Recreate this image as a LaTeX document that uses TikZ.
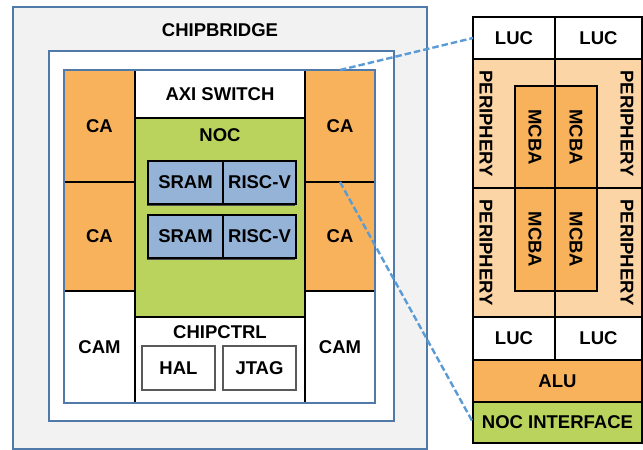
\documentclass[tikz,border=0pt]{standalone}
\usepackage{fontspec}
\setmainfont{Liberation Sans}
\usetikzlibrary{arrows.meta}
\definecolor{chipgray}  {RGB}{242,242,242}
\definecolor{chipblue}  {RGB}{79,122,170}
\definecolor{caorange}  {RGB}{249,178,92}
\definecolor{periorange}{RGB}{252,213,167}
\definecolor{nocgreen}  {RGB}{185,211,92}
\definecolor{srambluee} {RGB}{149,179,215}
\definecolor{dashblue}  {RGB}{91,155,213}

\begin{document}
\begin{tikzpicture}[
  x=1pt,y=-1pt,
  lbl/.style={font=\fontsize{18.5}{20}\selectfont\bfseries,inner sep=0pt},
  bluebox/.style 2 args={draw=chipblue,line width=2pt,minimum width=#1,minimum height=#2,
                         inner sep=0pt,outer sep=0pt},
  wbox/.style 2 args={draw=black,line width=1.2pt,minimum width=#1,minimum height=#2,
                      fill=white,inner sep=0pt,outer sep=0pt,lbl},
  cabox/.style 2 args={wbox={#1}{#2},fill=caorange},
  pbox/.style 2 args={wbox={#1}{#2},fill=periorange},
  nbox/.style 2 args={wbox={#1}{#2},fill=nocgreen},
  sbox/.style 2 args={wbox={#1}{#2},fill=srambluee},
  hbox/.style 2 args={wbox={#1}{#2},draw=black!65},
  shd/.style 2 args={fill=black!70,minimum width=#1,minimum height=#2,inner sep=0pt},
  zoomline/.style={draw=dashblue,line width=2.4pt,dash pattern=on 6.5pt off 3pt},
]
\useasboundingbox (0,0) rectangle (643,450);

%% ── ChipBridge frames ────────────────────────────────────────────────────────
\node[bluebox={414pt}{442pt},fill=chipgray] (bridge) at (220,228) {};
\node[bluebox={345pt}{370pt},fill=white] (ring) at (221.5,236) {};
\node[lbl] (bridgelbl) at (220,30) {CHIPBRIDGE};

%% ── left column ──────────────────────────────────────────────────────────────
\node[cabox={71pt}{112pt}] (caL1) at (99.5,126) {CA};
\node[cabox={71pt}{109pt}] (caL2) at (99.5,236.5) {CA};
\node[wbox={71pt}{112pt}]  (camL) at (99.5,347) {CAM};

%% ── right column ─────────────────────────────────────────────────────────────
\node[cabox={70pt}{112pt}] (caR1) at (340,126) {CA};
\node[cabox={70pt}{109pt}] (caR2) at (340,236.5) {CA};
\node[wbox={70pt}{112pt}]  (camR) at (340,347) {CAM};

%% ── AXI switch and NoC ───────────────────────────────────────────────────────
\node[wbox={170pt}{48pt}] (axi) at (220,94) {AXI SWITCH};
\node[nbox={170pt}{199pt}] (noc) at (220,217.5) {};
\node[lbl] (noclbl) at (220,135) {NOC};

\node[shd={148pt}{43pt}] (shd1) at (220.5,184) {};
\node[sbox={75pt}{43pt}] (sram1) at (185.5,182.5) {SRAM};
\node[sbox={73pt}{43pt}] (risc1) at (259.5,182.5) {RISC-V};

\node[shd={148pt}{43pt}] (shd2) at (220.5,238) {};
\node[sbox={75pt}{43pt}] (sram2) at (185.5,236.5) {SRAM};
\node[sbox={73pt}{43pt}] (risc2) at (259.5,236.5) {RISC-V};

%% ── chip control ─────────────────────────────────────────────────────────────
\node[wbox={170pt}{86pt}] (ctrl) at (220,360) {};
\node[lbl] (ctrllbl) at (220,332) {CHIPCTRL};
\node[hbox={73pt}{44pt}] (hal)  at (178.5,368) {HAL};
\node[hbox={73pt}{44pt}] (jtag) at (259.5,368) {JTAG};

%% core frame on top of the blocks
\node[bluebox={311pt}{333pt}] (core) at (219.5,236.5) {};

%% ── CA detail: LUCs and periphery ────────────────────────────────────────────
\node[wbox={82pt}{42pt}] (lucTL) at (514,38) {LUC};
\node[wbox={87pt}{42pt}] (lucTR) at (598.5,38) {LUC};

\node[pbox={82pt}{129pt}] (perTL) at (514,123.5) {};
\node[pbox={87pt}{129pt}] (perTR) at (598.5,123.5) {};
\node[pbox={82pt}{129pt}] (perBL) at (514,252.5) {};
\node[pbox={87pt}{129pt}] (perBR) at (598.5,252.5) {};

\node[lbl,rotate=-90] (perlblTL) at (486,123.5) {PERIPHERY};
\node[lbl,rotate=-90] (perlblTR) at (627,123.5) {PERIPHERY};
\node[lbl,rotate=-90] (perlblBL) at (486,252.5) {PERIPHERY};
\node[lbl,rotate=-90] (perlblBR) at (627,252.5) {PERIPHERY};

%% MCBA tiles (rotated, so width runs downwards)
\node[cabox={102pt}{40pt},rotate=-90] (mcTL) at (535,137)   {MCBA};
\node[cabox={102pt}{42pt},rotate=-90] (mcTR) at (576,137)   {MCBA};
\node[cabox={103pt}{40pt},rotate=-90] (mcBL) at (535,239.5) {MCBA};
\node[cabox={103pt}{42pt},rotate=-90] (mcBR) at (576,239.5) {MCBA};

\node[wbox={82pt}{43pt}] (lucBL) at (514,338.5) {LUC};
\node[wbox={87pt}{43pt}] (lucBR) at (598.5,338.5) {LUC};

\node[cabox={169pt}{42pt}] (alu)   at (557.5,381)   {ALU};
\node[nbox={169pt}{41pt}]  (nocif) at (557.5,422.5) {NOC INTERFACE};

%% ── zoom lines ───────────────────────────────────────────────────────────────
\draw[zoomline] (caR1.north) -- (lucTL.west);
\draw[zoomline] (caR1.south) -- (nocif.west);

\end{tikzpicture}
\end{document}
